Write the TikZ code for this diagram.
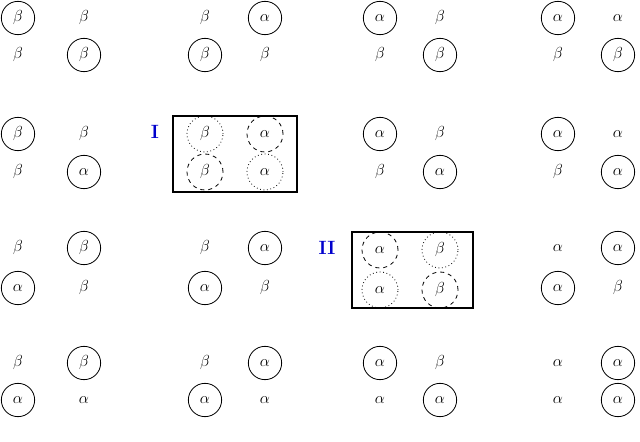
\documentclass[tikz,border=0pt]{standalone}
\begin{document}
\begin{tikzpicture}[x=0.75pt,y=-0.75pt,
 c/.style={circle,draw,semithick,minimum size=25pt,inner sep=0pt},
 p/.style={circle,minimum size=25pt,inner sep=0pt},
 dsh/.style={circle,draw,semithick,dashed,minimum size=27pt,inner sep=0pt},
 dot/.style={circle,draw,semithick,dotted,minimum size=27pt,inner sep=0pt},
 lab/.style={text=blue!80!black,font=\Large\bfseries}]
\useasboundingbox (0,0) rectangle (640,442);
\foreach \x/\y/\s/\l [count=\i] in {
 18/18/c/beta,84/18/p/beta,18/55/p/beta,84/55/c/beta,
 205/18/p/beta,265/18/c/alpha,205/55/c/beta,265/55/p/beta,
 380/18/c/alpha,440/18/p/beta,380/55/p/beta,440/55/c/beta,
 558/18/c/alpha,618/18/p/alpha,558/55/p/beta,618/55/c/beta,
 18/134/c/beta,84/134/p/beta,18/172/p/beta,84/172/c/alpha,
 205/134/dot/beta,265/134/dsh/alpha,205/172/dsh/beta,265/172/dot/alpha,
 380/134/c/alpha,440/134/p/beta,380/172/p/beta,440/172/c/alpha,
 558/134/c/alpha,618/134/p/alpha,558/172/p/beta,618/172/c/alpha,
 18/248/p/beta,84/248/c/beta,18/288/c/alpha,84/288/p/beta,
 205/248/p/beta,265/248/c/alpha,205/288/c/alpha,265/288/p/beta,
 380/250/dsh/alpha,440/250/dot/beta,380/290/dot/alpha,440/290/dsh/beta,
 558/248/p/alpha,618/248/c/alpha,558/288/c/alpha,618/288/p/beta,
 18/363/p/beta,84/363/c/beta,18/400/c/alpha,84/400/p/alpha,
 205/363/p/beta,265/363/c/alpha,205/400/c/alpha,265/400/p/alpha,
 380/363/c/alpha,440/363/p/beta,380/400/p/alpha,440/400/c/alpha,
 558/363/p/alpha,618/363/c/alpha,558/400/p/alpha,618/400/c/alpha}
 \node[\s,font=\large] (n\i) at (\x,\y) {$\csname\l\endcsname$};
\draw[thick] (173,116) rectangle (297,192);
\draw[thick] (352,232) rectangle (473,308);
\node[lab] (I) at (155,132) {I};
\node[lab] (II) at (327,248) {II};
\end{tikzpicture}
\end{document}
